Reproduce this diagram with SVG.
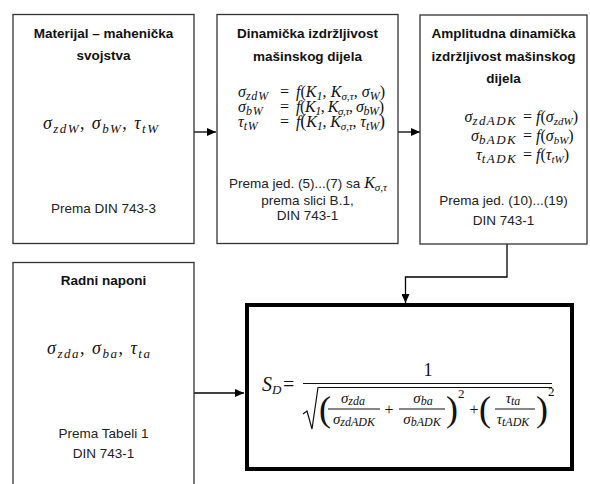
<svg xmlns="http://www.w3.org/2000/svg" width="590" height="484" viewBox="0 0 590 484">
<style>
.box{fill:#fff;stroke:#333;stroke-width:1.3}
.thick{fill:#fff;stroke:#000;stroke-width:4}
.t{font-family:"Liberation Sans",Arial,sans-serif;font-size:13.5px;font-weight:bold;fill:#111;text-anchor:middle}
.r{font-family:"Liberation Sans",Arial,sans-serif;font-size:13.5px;fill:#222;text-anchor:middle}
.m{font-family:"Liberation Serif","Times New Roman",serif;font-style:italic;fill:#111}
.u{font-style:normal}
.c{fill:none;stroke:#000;stroke-width:1.3}
.ln{fill:none;stroke:#111;stroke-width:1.2}
</style>
<defs>
<marker id="ah" markerWidth="9" markerHeight="8" refX="9" refY="4" orient="auto" markerUnits="userSpaceOnUse">
<path d="M0,0 L9,4 L0,8 z" fill="#000"/>
</marker>
</defs>

<g id="connectors">
<path class="c" d="M194,132 H216" marker-end="url(#ah)"/>
<path class="c" d="M398,132 H420" marker-end="url(#ah)"/>
<path class="c" d="M507,244 V277 H405.5 V303" marker-end="url(#ah)"/>
<path class="c" d="M194,393 H244" marker-end="url(#ah)"/>
</g>

<g id="node-material">
<rect class="box" x="13" y="14.5" width="181" height="229"/>
<text class="t" x="103.5" y="38">Materijal – mahenička</text>
<text class="t" x="103.5" y="60">svojstva</text>
<text class="m" x="43" y="129" font-size="18" textLength="115" lengthAdjust="spacing">σ<tspan font-size="13" dy="4">zdW</tspan><tspan class="u" dy="-4">, </tspan>σ<tspan font-size="13" dy="4">bW</tspan><tspan class="u" dy="-4">, </tspan>τ<tspan font-size="13" dy="4">tW</tspan></text>
<text class="r" x="103.5" y="213">Prema DIN 743-3</text>
</g>

<g id="node-dinamicka">
<rect class="box" x="217" y="14.5" width="181" height="229"/>
<text class="t" x="307.5" y="38">Dinamička izdržljivost</text>
<text class="t" x="307.5" y="61">mašinskog dijela</text>
<text class="m" x="238" y="97" font-size="16">σ<tspan font-size="12" dy="3" letter-spacing="0.8">zdW</tspan></text>
<text class="m u" x="280" y="97" font-size="16">=</text>
<text class="m" x="296" y="97" font-size="16" textLength="89" lengthAdjust="spacing">f<tspan class="u">(</tspan>K<tspan font-size="12" dy="3">1</tspan><tspan class="u" dy="-3">, </tspan>K<tspan font-size="11" dy="3">σ,τ</tspan><tspan class="u" dy="-3">, </tspan>σ<tspan font-size="12" dy="3">W</tspan><tspan class="u" dy="-3">)</tspan></text>
<text class="m" x="238" y="112" font-size="16">σ<tspan font-size="12" dy="3" letter-spacing="0.8">bW</tspan></text>
<text class="m u" x="280" y="112" font-size="16">=</text>
<text class="m" x="296" y="112" font-size="16" textLength="88" lengthAdjust="spacing">f<tspan class="u">(</tspan>K<tspan font-size="12" dy="3">1</tspan><tspan class="u" dy="-3">, </tspan>K<tspan font-size="11" dy="3">σ,τ</tspan><tspan class="u" dy="-3">, </tspan>σ<tspan font-size="12" dy="3">bW</tspan><tspan class="u" dy="-3">)</tspan></text>
<text class="m" x="238" y="127" font-size="16">τ<tspan font-size="12" dy="3" letter-spacing="0.8">tW</tspan></text>
<text class="m u" x="280" y="127" font-size="16">=</text>
<text class="m" x="296" y="127" font-size="16" textLength="89" lengthAdjust="spacing">f<tspan class="u" font-size="18">(</tspan>K<tspan font-size="12" dy="3">1</tspan><tspan class="u" dy="-3">, </tspan>K<tspan font-size="11" dy="3">σ,τ</tspan><tspan class="u" dy="-3">, </tspan>τ<tspan font-size="12" dy="3">tW</tspan><tspan class="u" font-size="18" dy="-3">)</tspan></text>
<text class="r" x="308" y="188">Prema jed. (5)...(7) sa <tspan class="m" font-size="16">K</tspan><tspan class="m" font-size="11" dy="3">σ,τ</tspan></text>
<text class="r" x="307.5" y="205">prema slici B.1,</text>
<text class="r" x="307.5" y="220">DIN 743-1</text>
</g>

<g id="node-amplitudna">
<rect class="box" x="420" y="15" width="167" height="229"/>
<text class="t" x="503.5" y="38">Amplitudna dinamička</text>
<text class="t" x="503.5" y="61">izdržljivost mašinskog</text>
<text class="t" x="503.5" y="83">dijela</text>
<text class="m" x="517" y="122" font-size="16" text-anchor="end">σ<tspan font-size="13" dy="3" letter-spacing="1.4">zdADK</tspan></text>
<text class="m u" x="523" y="122" font-size="16">=</text>
<text class="m" x="536" y="122" font-size="16">f<tspan class="u">(</tspan>σ<tspan font-size="11" dy="3">zdW</tspan><tspan class="u" dy="-3">)</tspan></text>
<text class="m" x="517" y="141" font-size="16" text-anchor="end">σ<tspan font-size="13" dy="3" letter-spacing="1.4">bADK</tspan></text>
<text class="m u" x="523" y="141" font-size="16">=</text>
<text class="m" x="536" y="141" font-size="16">f<tspan class="u">(</tspan>σ<tspan font-size="11" dy="3">bW</tspan><tspan class="u" dy="-3">)</tspan></text>
<text class="m" x="517" y="160" font-size="16" text-anchor="end">τ<tspan font-size="13" dy="3" letter-spacing="1.4">tADK</tspan></text>
<text class="m u" x="523" y="160" font-size="16">=</text>
<text class="m" x="536" y="160" font-size="16">f<tspan class="u">(</tspan>τ<tspan font-size="11" dy="3">tW</tspan><tspan class="u" dy="-3">)</tspan></text>
<text class="r" x="503.5" y="205">Prema jed. (10)...(19)</text>
<text class="r" x="503.5" y="225">DIN 743-1</text>
</g>

<g id="node-radni">
<rect class="box" x="13" y="262.5" width="181" height="240"/>
<text class="t" x="103.5" y="285">Radni naponi</text>
<text class="m" x="47" y="354" font-size="18" textLength="103" lengthAdjust="spacing">σ<tspan font-size="13" dy="4">zda</tspan><tspan class="u" dy="-4">, </tspan>σ<tspan font-size="13" dy="4">ba</tspan><tspan class="u" dy="-4">, </tspan>τ<tspan font-size="13" dy="4">ta</tspan></text>
<text class="r" x="103.5" y="438">Prema Tabeli 1</text>
<text class="r" x="103.5" y="458">DIN 743-1</text>
</g>

<g id="node-sd">
<rect class="thick" x="247" y="305" width="325" height="164"/>
<text class="m" x="262" y="391" font-size="20">S<tspan font-size="13" dy="3">D</tspan></text>
<text class="m u" x="283" y="391" font-size="20">=</text>
<path class="ln" d="M303,383.5 H552"/>
<text class="m u" x="428" y="376" font-size="18" text-anchor="middle">1</text>
<path class="ln" d="M303,414 L307,411 L312,429 L318,387.5 H552"/>
<text class="m u" x="319" y="421" font-size="36">(</text>
<text class="m" x="353" y="403" font-size="15" text-anchor="middle">σ<tspan font-size="12" dy="2">zda</tspan></text>
<path class="ln" d="M328,409 H380"/>
<text class="m" x="354" y="424" font-size="15" text-anchor="middle">σ<tspan font-size="12" dy="2">zdADK</tspan></text>
<text class="m u" x="389" y="415" font-size="16" text-anchor="middle">+</text>
<text class="m" x="423" y="403" font-size="15" text-anchor="middle">σ<tspan font-size="12" dy="2">ba</tspan></text>
<path class="ln" d="M399,409 H445"/>
<text class="m" x="422" y="424" font-size="15" text-anchor="middle">σ<tspan font-size="12" dy="2">bADK</tspan></text>
<text class="m u" x="446" y="421" font-size="36">)</text>
<text class="m u" x="458" y="398" font-size="13">2</text>
<text class="m u" x="474" y="415" font-size="16" text-anchor="middle">+</text>
<text class="m u" x="479" y="421" font-size="36">(</text>
<text class="m" x="513" y="403" font-size="15" text-anchor="middle">τ<tspan font-size="12" dy="2">ta</tspan></text>
<path class="ln" d="M495,409 H535"/>
<text class="m" x="513" y="424" font-size="15" text-anchor="middle">τ<tspan font-size="12" dy="2">tADK</tspan></text>
<text class="m u" x="536" y="421" font-size="36">)</text>
<text class="m u" x="548" y="396" font-size="13">2</text>
</g>
</svg>
